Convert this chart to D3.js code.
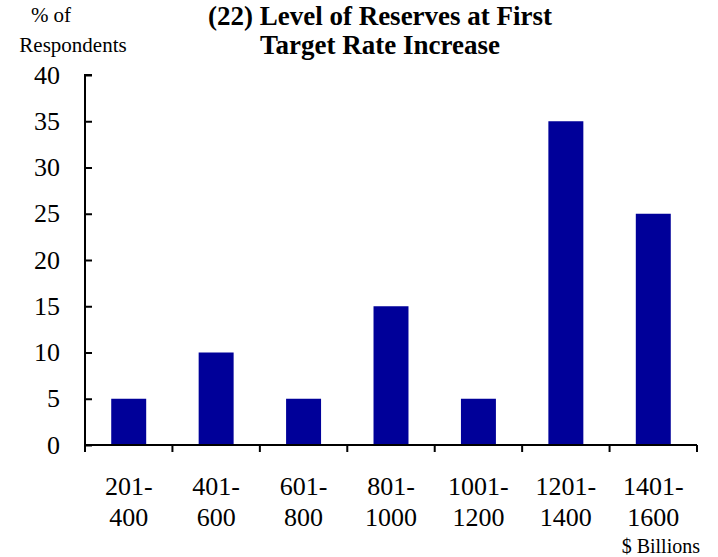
<!DOCTYPE html>
<html>
<head>
<meta charset="utf-8">
<script src="https://cdn.jsdelivr.net/npm/d3@7"></script>
<style>
  html, body { margin: 0; padding: 0; background: #fff; }
  svg text { font-family: "Liberation Serif", "Times New Roman", serif; fill: #000; }
</style>
</head>
<body>
<svg id="chart" width="718" height="557"></svg>
<script>
// Survey responses: share of respondents by expected reserve range ($ billions)
const rangeLow  = ["201-", "401-", "601-", "801-", "1001-", "1201-", "1401-"];
const rangeHigh = ["400", "600", "800", "1000", "1200", "1400", "1600"];
const shares    = [5, 10, 5, 15, 5, 35, 25];
const yTicks    = [0, 5, 10, 15, 20, 25, 30, 35, 40];

const svg = d3.select("#chart");
const plot = { left: 85, right: 697, top: 75, bottom: 445 };

const x = d3.scaleBand()
  .domain(rangeLow.map((d, i) => i))
  .range([plot.left, plot.right])
  .paddingInner(0.6)
  .paddingOuter(0.3);

const y = d3.scaleLinear().domain([0, 40]).range([plot.bottom, plot.top]);

// Bars
svg.append("g")
  .selectAll("rect")
  .data(shares)
  .join("rect")
  .attr("x", (d, i) => x(i))
  .attr("y", d => y(d))
  .attr("width", x.bandwidth())
  .attr("height", d => y(0) - y(d))
  .attr("fill", "#000099");

// Y axis with inward ticks
const yAxis = svg.append("g")
  .attr("transform", `translate(${plot.left},0)`)
  .call(d3.axisRight(y).tickValues(yTicks).tickSize(7).tickFormat(""));
yAxis.select(".domain").attr("d", `M7,${plot.top}H0V${plot.bottom}`).attr("stroke-width", 2);
yAxis.selectAll(".tick line").attr("stroke-width", 2);

svg.append("g")
  .selectAll("text")
  .data(yTicks)
  .join("text")
  .attr("x", 60)
  .attr("y", d => y(d))
  .attr("dy", "0.33em")
  .attr("text-anchor", "end")
  .style("font-size", "26px")
  .text(d => d);

// X axis: ticks at category boundaries
const bounds = d3.range(rangeLow.length + 1).map(i => plot.left + i * x.step());
const xg = svg.append("g");
xg.append("line")
  .attr("x1", plot.left).attr("x2", plot.right)
  .attr("y1", plot.bottom).attr("y2", plot.bottom)
  .attr("stroke", "#000").attr("stroke-width", 2);
xg.selectAll("line.tick")
  .data(bounds)
  .join("line")
  .attr("class", "tick")
  .attr("x1", d => d).attr("x2", d => d)
  .attr("y1", plot.bottom).attr("y2", plot.bottom + 7)
  .attr("stroke", "#000").attr("stroke-width", 2);

// Category labels (two lines)
const lbl = svg.append("g")
  .selectAll("text")
  .data(rangeLow)
  .join("text")
  .attr("text-anchor", "middle")
  .style("font-size", "26px");
lbl.append("tspan")
  .attr("x", (d, i) => x(i) + x.bandwidth() / 2)
  .attr("y", 495)
  .text(d => d);
lbl.append("tspan")
  .attr("x", (d, i) => x(i) + x.bandwidth() / 2)
  .attr("y", 526)
  .text((d, i) => rangeHigh[i]);

// Unit label
svg.append("text")
  .attr("x", 700).attr("y", 553)
  .attr("text-anchor", "end")
  .style("font-size", "20px")
  .text("$ Billions");

// Y axis caption
svg.append("text")
  .attr("x", 51).attr("y", 22)
  .attr("text-anchor", "middle")
  .style("font-size", "21px")
  .text("% of");
svg.append("text")
  .attr("x", 73).attr("y", 52)
  .attr("text-anchor", "middle")
  .style("font-size", "21px")
  .text("Respondents");

// Title
const title = svg.append("text")
  .attr("text-anchor", "middle")
  .style("font-size", "27px")
  .style("font-weight", "bold");
title.append("tspan").attr("x", 380).attr("y", 24.5).text("(22) Level of Reserves at First");
title.append("tspan").attr("x", 380).attr("y", 54).text("Target Rate Increase");
</script>
</body>
</html>
